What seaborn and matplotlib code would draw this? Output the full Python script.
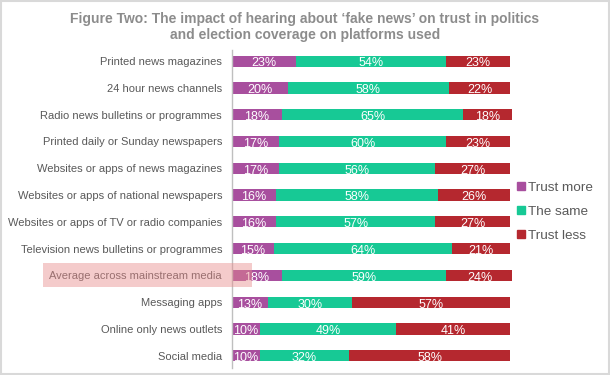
import matplotlib
matplotlib.use("Agg")
import matplotlib.pyplot as plt
import seaborn as sns
import pandas as pd
import numpy as np
from matplotlib.patches import Rectangle
from matplotlib.lines import Line2D

categories = [
    "Printed news magazines",
    "24 hour news channels",
    "Radio news bulletins or programmes",
    "Printed daily or Sunday newspapers",
    "Websites or apps of news magazines",
    "Websites or apps of national newspapers",
    "Websites or apps of TV or radio companies",
    "Television news bulletins or programmes",
    "Average across mainstream media",
    "Messaging apps",
    "Online only news outlets",
    "Social media",
]
trust_more = [23, 20, 18, 17, 17, 16, 16, 15, 18, 13, 10, 10]
the_same = [54, 58, 65, 60, 56, 58, 57, 64, 59, 30, 49, 32]
trust_less = [23, 22, 18, 23, 27, 26, 27, 21, 24, 57, 41, 58]
series_names = ["Trust more", "The same", "Trust less"]
colors = ["#A84F9E", "#17C995", "#B5282F"]

df = pd.DataFrame({"cat": categories, "more": trust_more, "same": the_same, "less": trust_less})
df["c1"] = df["more"]
df["c2"] = df["more"] + df["same"]
df["c3"] = df["c2"] + df["less"]

sns.set_theme(style="white")
plt.rcParams["font.family"] = ["Liberation Sans", "DejaVu Sans"]

fig = plt.figure(figsize=(6.1, 3.75), dpi=100)
ax = fig.add_axes([0.380, 0.019, 0.459, 0.848])

for col, c in zip(["c3", "c2", "c1"], colors[::-1]):
    sns.barplot(data=df, x=col, y="cat", orient="h", color=c, width=0.42,
                saturation=1, ax=ax, linewidth=0)

for i, row in df.iterrows():
    starts = [0, row["c1"], row["c2"]]
    for s, v in zip(starts, [row["more"], row["same"], row["less"]]):
        ax.text(s + v / 2, i + 0.03, f"{v}%", ha="center", va="center_baseline",
                color="white", fontsize=9)

ax.set_xlim(0, 100.5)
ax.set_ylim(11.45, -0.42)
ax.set_xlabel("")
ax.set_ylabel("")
ax.set_xticks([])
for s in ["top", "right", "bottom"]:
    ax.spines[s].set_visible(False)
ax.spines["left"].set_color("#BFBFBF")
ax.spines["left"].set_linewidth(1)
ax.tick_params(axis="y", length=0, pad=7, labelsize=8, labelcolor="#595959")

# highlight box behind "Average across mainstream media"
fig.patches.append(Rectangle((43 / 610, 1 - 287 / 375), (252 - 43) / 610, 24 / 375,
                             transform=fig.transFigure, facecolor="#E88C8C",
                             alpha=0.45, edgecolor="none", zorder=5))

handles = [Line2D([0], [0], marker="s", linestyle="none", markersize=6,
                  markerfacecolor=c, markeredgecolor=c) for c in colors]
leg = fig.legend(handles, series_names, loc="upper left",
                 bbox_to_anchor=(510 / 610, 1 - 176 / 375), frameon=False,
                 fontsize=9.7, labelcolor="#595959", handletextpad=0.15,
                 handlelength=0.8, labelspacing=0.85, borderaxespad=0)

fig.text(0.5, 0.968, "Figure Two: The impact of hearing about \u2018fake news\u2019 on trust in politics\nand election coverage on platforms used",
         ha="center", va="top", fontsize=10, fontweight="bold", color="#8C8C8C",
         linespacing=1.2)

fig.patches.append(Rectangle((0.001, 0.002), 0.997, 0.995, transform=fig.transFigure,
                             fill=False, edgecolor="#D9D9D9", linewidth=1.5))

fig.savefig("out.png", dpi=100)
